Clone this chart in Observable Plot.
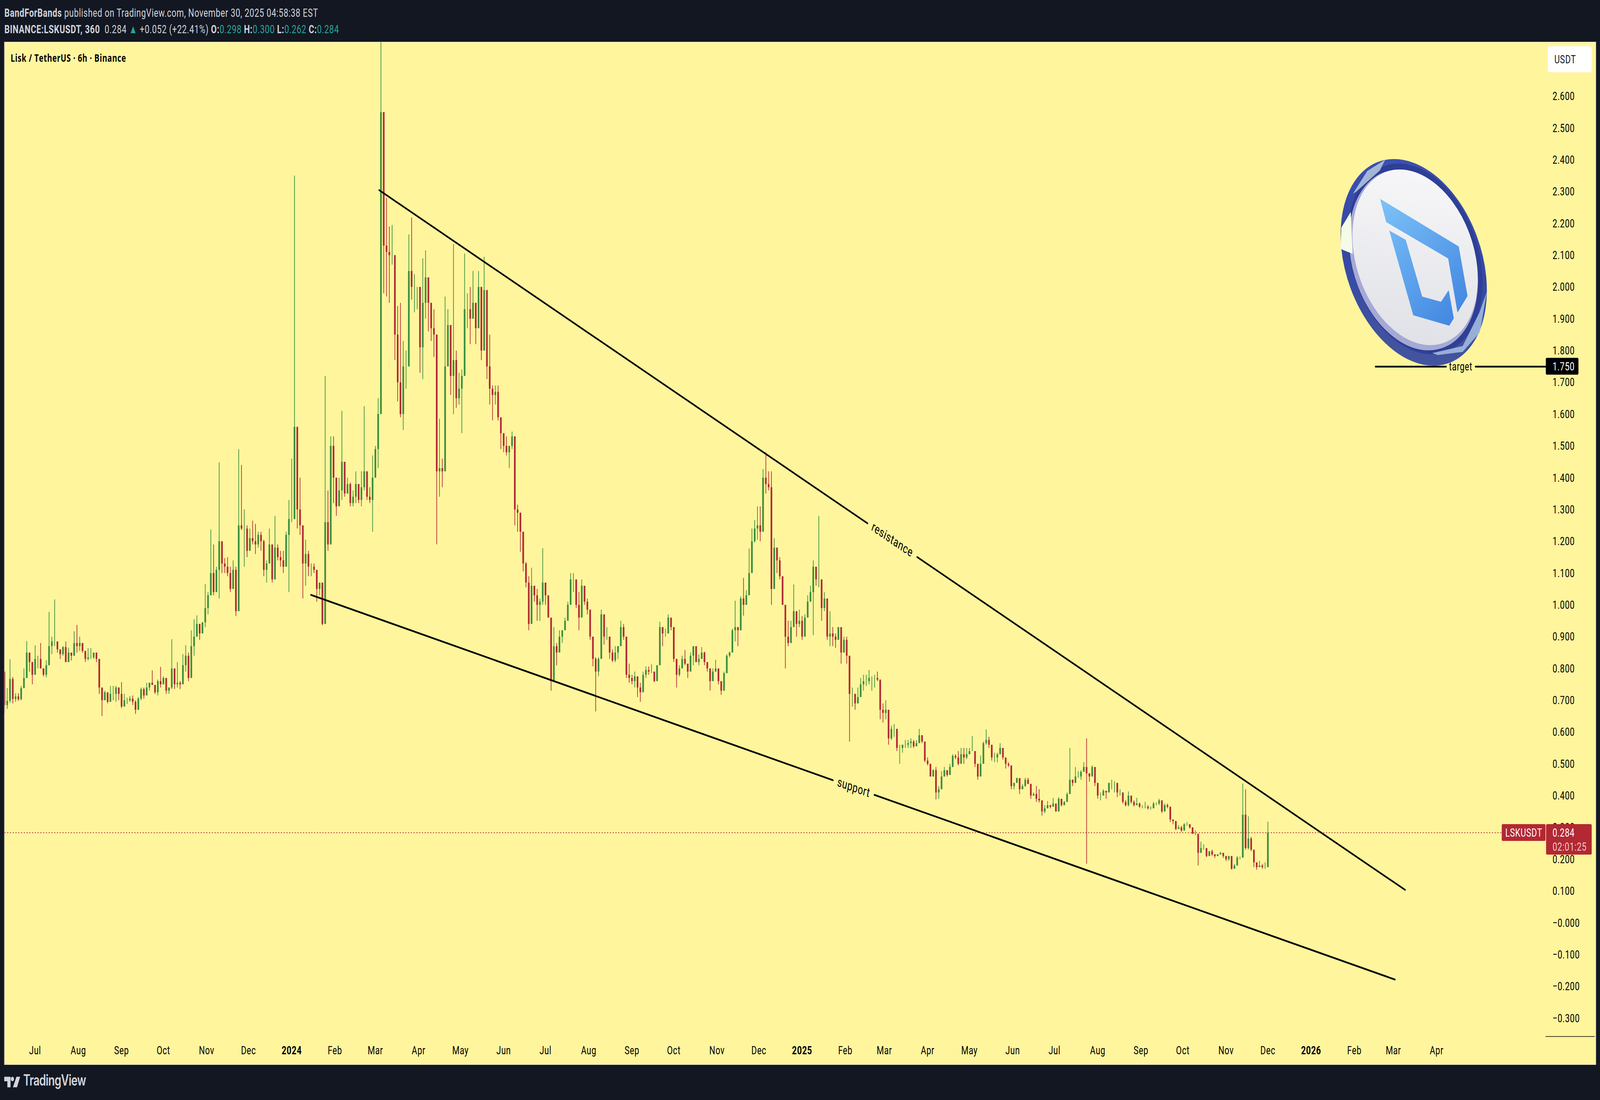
<!DOCTYPE html>
<html><head><meta charset="utf-8">
<script src="https://cdn.jsdelivr.net/npm/d3@7"></script>
<script src="https://cdn.jsdelivr.net/npm/@observablehq/plot@0.6"></script>
<style>
html,body{margin:0;padding:0;background:#131722;overflow:hidden}
#page{width:5787px;height:2815px;transform-origin:0 0;background:#131722}
#head{height:108px;position:relative;color:#d1d4dc;font:30px Roboto,sans-serif;letter-spacing:.9px;white-space:pre}
#head div{position:absolute;left:16px}
#head b{font-weight:700}
#head .t{color:#26a69a}
#chart{position:relative;margin-left:16px;width:5756px;height:2616px;outline:1px solid #e0e3eb}
#chart svg{display:block;max-width:none}
#foot{position:relative;height:91px;color:#d1d4dc}
#foot svg{position:absolute;left:15px;top:29px}
#foot span{position:absolute;left:84px;top:16px;font:600 39px Inter,sans-serif;letter-spacing:-1px}
</style></head><body>
<div id="page">
<div id="head">
<div style="top:15px"><b>BandForBands</b> published on TradingView.com, November 30, 2025 04:58:38 EST</div>
<div style="top:57px"><b>BINANCE:LSKUSDT, 360</b>  0.284 <span class="t">▲</span> +0.052 (+22.41%) <b>O:</b><span class="t">0.298</span> <b>H:</b><span class="t">0.300</span> <b>L:</b><span class="t">0.262</span> <b>C:</b><span class="t">0.284</span></div>
</div>
<div id="chart"></div>
<div id="foot"><svg width="58" height="30" viewBox="0 0 60 30" fill="#d1d4dc"><path d="M0 2H24V30H12V14H0z"/><circle cx="31" cy="8" r="6"/><path d="M46 2H60L48 30H33z"/></svg><span>TradingView</span></div>
</div>
<script>
// Two-day candles, flat triples of high, low, close.
// Each candle opens at the previous close.
const firstOpen = .79;
const summer2023 = [
.79,.66,.685, .738,.673,.698, .829,.692,.767, .773,.69,.704, .722,.695,.712,
.722,.698,.703, .745,.70,.738, .80,.74,.77, .886,.80,.85, .85,.79,.82,
.82,.75,.78, .873,.78,.83, .84,.80,.83, .88,.80,.80, .80,.775,.78,
.826,.772,.81, .978,.83,.87, .90,.845,.885, 1.017,.87,.885, .885,.85,.86,
.855,.83,.845, .87,.84,.867, .885,.82,.82, .865,.82,.85, .85,.825,.84,
.917,.855,.88, .937,.85,.87, .90,.855,.88, .865,.85,.855, .855,.82,.83,
.864,.825,.835, .864,.83,.835, .85,.83,.85, .845,.82,.83, .83,.72,.74,
.735,.65,.70, .73,.705,.725, .72,.69,.695, .745,.70,.72, .745,.70,.72];
const autumn2023 = [
.745,.695,.74, .74,.70,.72, .757,.675,.68, .72,.695,.70, .708,.688,.70,
.713,.695,.705, .715,.685,.695, .70,.657,.67, .71,.67,.705, .74,.70,.735,
.74,.705,.715, .755,.725,.74, .755,.73,.755, .794,.75,.748, .74,.72,.725,
.765,.715,.76, .805,.74,.75, .775,.75,.77, .755,.72,.73, .74,.72,.74,
.892,.735,.80, .79,.735,.75, .82,.74,.755, .76,.735,.75, .845,.775,.81,
.873,.79,.84, .85,.76,.77, .92,.78,.87, .955,.84,.90, .967,.90,.94,
.94,.89,.91, .945,.91,.945, 1.065,.93,.99, 1.04,.97,1.03, 1.237,1.05,1.10,
1.19,1.03,1.04, 1.12,1.06,1.11, 1.448,1.02,1.20, 1.16,1.10,1.13];
const winter2023 = [
1.147,1.10,1.12, 1.15,1.09,1.10, 1.12,1.04,1.05, 1.14,1.07,1.11, 1.12,.965,.98,
1.49,.98,1.25, 1.44,1.235,1.24, 1.30,1.12,1.24, 1.25,1.15,1.17, 1.24,1.18,1.21,
1.265,1.19,1.20, 1.255,1.16,1.19, 1.23,1.18,1.22, 1.23,1.17,1.20, 1.205,1.09,1.11,
1.14,1.07,1.13, 1.24,1.15,1.19, 1.18,1.07,1.08, 1.28,1.12,1.18, 1.19,1.14,1.15,
1.17,1.12,1.14, 1.17,1.10,1.12, 1.23,1.15,1.22, 1.33,1.04,1.27, 1.46,1.26,1.27,
2.35,1.30,1.56];
const earlyYear2024 = [
1.45,1.24,1.30, 1.40,1.22,1.25, 1.23,1.02,1.13, 1.205,1.06,1.16, 1.17,1.09,1.12,
1.13,1.09,1.12, 1.13,1.10,1.11, 1.09,1.01,1.05, 1.07,1.03,1.07, 1.03,.936,.94,
1.72,.95,1.26, 1.36,1.17,1.19, 1.53,1.19,1.50, 1.53,1.32,1.40, 1.40,1.28,1.31,
1.40,1.32,1.36, 1.61,1.33,1.45, 1.45,1.34,1.35, 1.40,1.36,1.38, 1.385,1.31,1.32,
1.36,1.31,1.34, 1.42,1.32,1.38, 1.35,1.32,1.33, 1.42,1.31,1.37, 1.625,1.36,1.42,
1.395,1.33,1.34, 1.37,1.32,1.33, 1.47,1.23,1.40, 1.50,1.40,1.49, 1.65,1.43,1.60];
const spring2024 = [
3.0,1.65,2.55, 2.48,1.98,2.13, 2.28,1.97,2.11, 2.19,1.95,2.10, 2.195,2.07,2.10,
2.07,1.77,1.85, 1.94,1.64,1.70, 1.95,1.59,1.60, 1.83,1.55,1.75, 1.80,1.68,1.75,
2.165,1.78,2.05, 2.218,1.96,2.0, 2.04,1.92,2.0, 2.0,1.93,2.0, 1.95,1.73,1.81,
2.09,1.71,1.95, 2.115,1.90,2.03, 2.02,1.86,1.95, 1.94,1.83,1.87, 1.93,1.78,1.85,
1.85,1.19,1.42, 1.585,1.34,1.43, 1.46,1.37,1.42, 1.97,1.54,1.75, 1.93,1.78,1.88,
1.86,1.66,1.72, 2.135,1.60,1.77, 1.80,1.62,1.65, 1.73,1.63,1.68, 1.74,1.54,1.72,
2.105,1.80,1.93, 1.98,1.87,1.93, 2.0,1.82,1.90, 2.05,1.92,1.95, 1.95,1.82,1.87,
2.05,1.92,2.0, 2.0,1.77,1.80, 2.095,1.93,1.99, 1.86,1.71,1.75, 1.85,1.63,1.68,
1.69,1.58,1.66, 1.69,1.63,1.67, 1.69,1.58,1.59, 1.585,1.49,1.54, 1.53,1.48,1.50,
1.53,1.47,1.48, 1.50,1.43,1.50, 1.545,1.49,1.53, 1.53,1.25,1.30, 1.315,1.23,1.29,
1.28,1.167,1.23, 1.21,1.105,1.13, 1.135,1.055,1.07, 1.09,.92,.94, 1.117,.985,1.06,
1.05,1.01,1.03, 1.05,.95,1.0, 1.02,.95,1.01, 1.178,1.0,1.07, 1.05,1.0,1.03,
1.01,.96,.96, .93,.73,.76];
const summer2024 = [
.93,.82,.87, .88,.81,.85, .92,.88,.90, .92,.88,.92, .96,.93,.95,
1.01,.98,1.0, 1.10,1.01,1.08, 1.10,1.04,1.08, 1.05,.99,1.0, 1.04,.92,.96,
1.08,1.0,1.06, 1.05,1.0,1.01, 1.02,.97,.985, .96,.89,.90, .89,.807,.83,
.835,.665,.79, .835,.775,.83, .985,.87,.97, .93,.875,.90, .93,.89,.90,
.89,.83,.85, .86,.82,.825, .87,.82,.85, .87,.83,.87, .95,.90,.93,
.94,.89,.90, .88,.77,.78, .815,.755,.77, .78,.75,.76, .79,.74,.775,
.755,.71,.74, .755,.695,.725, .79,.765,.78, .806,.77,.795, .806,.78,.79,
.813,.785,.79, .79,.757,.76, .81,.775,.81, .947,.867,.93, .93,.87,.91,
.925,.90,.91, .97,.93,.96, .95,.92,.93, .91,.82,.83, .825,.74,.78,
.81,.775,.80, .84,.806,.83, .858,.81,.815, .806,.77,.79, .85,.825,.84,
.87,.81,.87, .85,.82,.82, .844,.81,.83, .867,.835,.85, .853,.81,.82,
.82,.79,.80, .77,.73,.76, .80,.765,.79, .827,.80,.80, .787,.75,.76,
.75,.717,.73, .79,.73,.785, .845,.806,.84, .853,.835,.85, .925,.87,.92];
const peak2024 = [
1.013,.885,.93, .93,.87,.92, 1.027,.937,1.02, 1.085,.966,1.0, 1.046,1.0,1.03,
1.177,1.037,1.10, 1.24,1.117,1.20, 1.267,1.196,1.24, 1.31,1.205,1.25, 1.31,1.20,1.23,
1.427,1.35,1.40, 1.48,1.35,1.38, 1.42,1.36,1.37, 1.42,1.0,1.05, 1.21,1.10,1.18,
1.18,1.10,1.14, 1.15,1.08,1.09, 1.085,1.0,1.0, .995,.80,.90, .95,.87,.88,
.95,.89,.93, 1.064,.934,.98, .965,.90,.94, .985,.93,.95, .965,.89,.90,
.97,.94,.96, 1.03,.985,1.01, 1.06,1.01,1.04, 1.14,.905,1.12, 1.11,1.06,1.08,
1.28,1.055,1.08, 1.06,.95,.99, 1.04,.98,1.02, .98,.89,.90, .98,.87,.91,
.93,.87,.90, .91,.865,.89, .93,.90,.93, .88,.815,.85, .90,.85,.89,
.90,.815,.84, .84,.57,.72, .74,.68,.72, .72,.67,.69, .74,.70,.71,
.77,.71,.75, .78,.73,.76, .78,.745,.76, .795,.75,.77, .775,.73,.77,
.78,.74,.77, .79,.76,.765, .72,.64,.67, .69,.63,.66, .70,.64,.67,
.66,.56,.58, .62,.575,.61, .625,.585,.61, .605,.54,.55, .56,.50,.55,
.56,.535,.56, .575,.55,.56, .575,.55,.565, .58,.55,.57, .575,.55,.555,
.575,.56,.565, .61,.58,.59, .59,.565,.57, .55,.505,.51];
const spring2025 = [
.52,.495,.50, .49,.46,.46, .483,.46,.48, .49,.388,.41, .43,.39,.42,
.477,.44,.46, .49,.465,.48, .477,.46,.465, .50,.47,.49, .53,.51,.525,
.53,.515,.52, .54,.495,.50, .55,.52,.53, .55,.50,.52, .55,.515,.53,
.55,.535,.54, .587,.54,.54, .52,.49,.50, .48,.45,.46, .526,.49,.50,
.57,.55,.565, .608,.56,.575, .585,.55,.56, .547,.51,.52, .535,.505,.52,
.535,.505,.53, .565,.535,.55, .526,.513,.52, .513,.485,.50, .505,.49,.495,
.456,.42,.43, .44,.42,.44, .456,.44,.455, .444,.405,.42, .436,.423,.43,
.456,.428,.45, .456,.436,.437, .41,.39,.40, .41,.40,.405, .43,.38,.39,
.42,.378,.385, .378,.337,.35, .37,.345,.36, .383,.362,.37, .368,.36,.365,
.393,.366,.375, .366,.35,.35, .395,.378,.39, .376,.366,.37, .383,.37,.38];
const summer2025 = [
.41,.395,.405, .55,.42,.45, .45,.43,.44, .49,.44,.46, .477,.456,.46,
.48,.45,.475, .505,.48,.49, .58,.186,.47, .47,.444,.46, .495,.47,.49,
.45,.43,.44, .43,.39,.40, .41,.385,.40, .42,.40,.415, .41,.39,.41,
.44,.41,.44, .45,.42,.44, .445,.41,.44, .415,.395,.41, .42,.40,.41,
.40,.375,.38, .386,.366,.37, .413,.366,.40, .40,.375,.38, .385,.366,.37,
.393,.37,.375, .378,.362,.365, .37,.36,.365, .38,.36,.365, .37,.356,.36,
.366,.356,.36, .38,.365,.375, .378,.37,.375, .39,.37,.385, .378,.345,.35,
.375,.355,.37, .375,.36,.365, .362,.317,.325, .325,.31,.32, .32,.292,.295,
.307,.296,.30, .305,.286,.29, .313,.296,.31, .317,.305,.31, .305,.296,.30,
.30,.28,.28, .29,.276,.28, .27,.18,.22, .255,.22,.235, .247,.23,.235];
const autumn2025 = [
.225,.206,.21, .225,.21,.225, .23,.21,.215, .216,.204,.21, .216,.21,.215,
.223,.215,.22, .215,.204,.21, .21,.194,.20, .21,.195,.21, .195,.167,.17,
.185,.175,.18, .21,.20,.205, .208,.20,.205, .438,.205,.34, .42,.23,.235,
.335,.23,.265, .27,.225,.23, .215,.175,.19, .18,.167,.175, .195,.175,.18,
.185,.17,.175, .19,.17,.175, .318,.20,.284];

const tripleRows = [summer2023, autumn2023, winter2023, earlyYear2024, spring2024, summer2024, peak2024, spring2025, summer2025, autumn2025].flat();
const firstCandleDay = -206, candleStepDays = 2;
const axisDay0 = Date.UTC(2024, 0, 1);
const when = d => new Date(axisDay0 + d * 864e5);

const candles = [];
for (let i = 0, open = firstOpen; i * 3 < tripleRows.length; i++) {
  const close = tripleRows[i * 3 + 2];
  candles.push({date: when(firstCandleDay + i * candleStepDays), open, high: tripleRows[i * 3], low: tripleRows[i * 3 + 1], close});
  open = close;
}

const priceTicks = [-.3,-.2,-.1,0,.1,.2,.3,.4,.5,.6,.7,.8,.9,1,1.1,1.2,1.3,1.4,1.5,1.6,1.7,1.8,1.9,2,2.1,2.2,2.3,2.4,2.5,2.6];
const monthTicks = ["2023-07-01","2023-08-01","2023-09-01","2023-10-01","2023-11-01","2023-12-01","2024-02-01","2024-03-01","2024-04-01","2024-05-01","2024-06-01","2024-07-01","2024-08-01","2024-09-01","2024-10-01","2024-11-01","2024-12-01","2025-02-01","2025-03-01","2025-04-01","2025-05-01","2025-06-01","2025-07-01","2025-08-01","2025-09-01","2025-10-01","2025-11-01","2025-12-01","2026-02-01","2026-03-01","2026-04-01"].map(d => new Date(d));
const yearTicks = ["2024-01-01","2025-01-01","2026-01-01"].map(d => new Date(d));

const resistance = [{day:62.7,price:2.305,part:"a"},{day:412.9,price:1.257,part:"a"},{day:448.5,price:1.151,part:"b"},{day:798.4,price:.104,part:"b"}];
const support = [{day:13.8,price:1.032,part:"a"},{day:388.1,price:.449,part:"a"},{day:417.8,price:.403,part:"b"},{day:791.1,price:-.178,part:"b"}];
const targetLine = [{day:777.2,price:1.75,part:"a"},{day:827.8,price:1.75,part:"a"},{day:848.9,price:1.75,part:"b"},{day:899.2,price:1.75,part:"b"}];
const lastPrice = .284;

const coinSvg = `<svg xmlns="http://www.w3.org/2000/svg" width="550" height="545" viewBox="4840 400 550 545">
<defs>
<linearGradient id="r" x1="0" y1="0" x2="1" y2="1"><stop offset="0" stop-color="#3f53b5"/><stop offset=".5" stop-color="#3448a6"/><stop offset="1" stop-color="#4a5a9a"/></linearGradient>
<linearGradient id="f" x1="0" y1="0" x2="1" y2="1"><stop offset="0" stop-color="#fbfbfc"/><stop offset="1" stop-color="#dcdde3"/></linearGradient>
<linearGradient id="l" gradientUnits="userSpaceOnUse" x1="5000" y1="510" x2="5240" y2="830"><stop offset="0" stop-color="#7cc2f7"/><stop offset="1" stop-color="#4488e2"/></linearGradient>
</defs>
<ellipse cx="5113" cy="671" rx="298" ry="226" transform="rotate(45 5113 671)" fill="url(#r)"/>
<ellipse cx="5118" cy="662" rx="272" ry="212" transform="rotate(45 5118 662)" fill="#2f3f96"/>
<ellipse cx="5112" cy="665" rx="258" ry="203" transform="rotate(44 5112 665)" fill="#a5a9d6"/>
<ellipse cx="5118" cy="658" rx="252" ry="196" transform="rotate(44 5118 658)" fill="url(#f)"/>
<path d="M4848 636L4851 582 4885 542 4892 649 4860 640z" fill="#f5fbe9"/>
<path d="M4893 495L4945 437 5010 408 4990 436 4905 490z" fill="#b7c9df" opacity=".85"/>
<path d="M5180 903L5290 885 5350 800 5378 745 5352 850 5290 900 5200 908z" fill="#a8bfe0" opacity=".85"/>
<path d="M4991.4 508.5L5275.8 630.4 5307.5 757.1 5271.2 799.6 5237.4 661.2 5013.2 567.9z" fill="url(#l)"/>
<path d="M5024.5 589.7L5084 613.4 5143.5 758.5 5211.6 771.9 5239.4 742 5257.9 814.3 5241.4 833 5111.1 806.3z" fill="url(#l)"/>
</svg>`;

const bg = "#fff59d", up = "#388e3c", down = "#b22833", ink = "#000";
const candleColor = d => d.close >= d.open ? up : down;
const priceFmt = v => Math.abs(v) < 1e-9 ? "\u22120.000" : d3.format(".3f")(v);
const monthFmt = d3.utcFormat("%b"), yearFmt = d3.utcFormat("%Y");

const chart = Plot.plot({
  width: 5756, height: 2616,
  marginLeft: 0, marginRight: 182, marginTop: 0, marginBottom: 72,
  style: {background: bg, fontFamily: "Roboto, sans-serif", fontSize: "30px", letterSpacing: "1px", color: ink},
  x: {type: "utc", domain: [when(-205.9), when(899.2)], axis: null},
  y: {domain: [-.3571, 2.7697], axis: null},
  color: {type: "identity"},
  marks: [
    Plot.image([{day:805, price:2.076}], {x: d => when(d.day), y: "price", width: 550, height: 545, src: () => "data:image/svg+xml," + encodeURIComponent(coinSvg)}),
    Plot.ruleY([lastPrice], {x1: when(-205.9), x2: when(867.8), stroke: down, strokeWidth: 2, strokeDasharray: "4 6"}),
    Plot.ruleX(candles, {x: "date", y1: "low", y2: "high", stroke: candleColor, strokeWidth: 2.4, clip: true}),
    Plot.ruleX(candles, {x: "date", y1: "open", y2: "close", stroke: candleColor, strokeWidth: 6, clip: true}),
    Plot.line(resistance, {x: d => when(d.day), y: "price", z: "part", stroke: ink, strokeWidth: 4.5, strokeLinecap: "round"}),
    Plot.line(support, {x: d => when(d.day), y: "price", z: "part", stroke: ink, strokeWidth: 4.5, strokeLinecap: "round"}),
    Plot.line(targetLine, {x: d => when(d.day), y: "price", z: "part", stroke: ink, strokeWidth: 4.5, strokeLinecap: "round"}),
    Plot.text(["resistance"], {x: when(430.7), y: 1.205, text: d => d, rotate: 25.8, fontSize: 33, fill: ink}),
    Plot.text(["support"], {x: when(403), y: .426, text: d => d, rotate: 14.1, fontSize: 33, fill: ink}),
    Plot.text(["target"], {x: when(838.3), y: 1.75, text: d => d, fontSize: 30, fill: ink}),
    Plot.axisY(priceTicks, {anchor: "right", tickSize: 0, tickPadding: 25, tickFormat: priceFmt, fontSize: 30, fill: ink, label: null}),
    Plot.axisX(monthTicks, {anchor: "bottom", tickSize: 0, tickPadding: 24, tickFormat: monthFmt, fontSize: 30, fill: ink, label: null}),
    Plot.axisX(yearTicks, {anchor: "bottom", tickSize: 0, tickPadding: 24, tickFormat: yearFmt, fontSize: 30, fontWeight: 700, fill: ink, label: null}),
    Plot.ruleY([-.3571], {x1: when(899.2), x2: when(934.5), stroke: ink, strokeWidth: 1.5}),
    Plot.rect([0], {x1: when(867.8), x2: when(899.2), y1: .2574, y2: .3103, fill: down, rx: 4}),
    Plot.rect([0], {x1: when(899.6), x2: when(932.3), y1: .2144, y2: .3103, fill: down, rx: 4}),
    Plot.text(["LSKUSDT"], {x: when(883.5), y: .2838, text: d => d, fill: "#fff", fontSize: 30}),
    Plot.text(["0.284"], {x: when(904.1), y: .2838, text: d => d, textAnchor: "start", fill: "#fff", fontSize: 30}),
    Plot.text(["02:01:25"], {x: when(904.1), y: .2395, text: d => d, textAnchor: "start", fill: "#f0c6ca", fontSize: 30}),
    Plot.rect([0], {x1: when(899.4), x2: when(922.8), y1: 1.724, y2: 1.777, fill: "#000", rx: 4}),
    Plot.text(["1.750"], {x: when(904.1), y: 1.75, text: d => d, textAnchor: "start", fill: "#fff", fontSize: 30}),
    Plot.rect([0], {x1: when(900.8), x2: when(932.3), y1: 2.675, y2: 2.757, fill: "#fff", rx: 6}),
    Plot.text(["USDT"], {x: when(913.2), y: 2.716, text: d => d, fill: "#131722", fontSize: 30}),
    Plot.text(["Lisk / TetherUS · 6h · Binance"], {frameAnchor: "top-left", dx: 22, dy: 30, text: d => d, fontFamily: "'Open Sans', sans-serif", fontWeight: 700, fontSize: 27, fill: ink, lineAnchor: "top"})
  ]
});
document.getElementById("chart").appendChild(chart);
// The browser window can come out narrower than the 5787px page asked for: fit the page to it.
document.getElementById("page").style.transform = `scale(${innerWidth / 5787}, ${innerHeight / 2815})`;
</script>
</body></html>
